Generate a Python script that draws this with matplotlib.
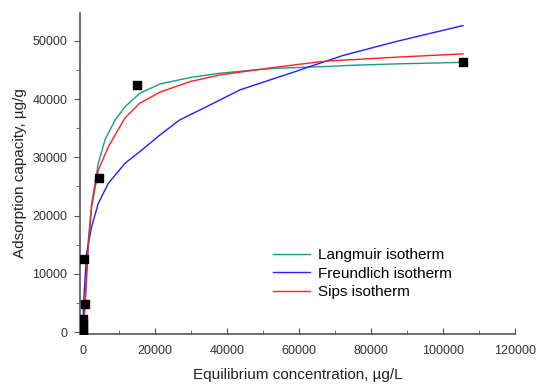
import matplotlib
matplotlib.use("Agg")
import matplotlib.pyplot as plt
from matplotlib.ticker import MultipleLocator

plt.rcParams['font.family'] = ['Liberation Sans', 'DejaVu Sans']

# experimental points
c_exp = [0, 0, 0, 0, 560, 370, 4450, 15100, 105600]
q_exp = [0, 700, 1500, 2300, 4810, 12540, 26400, 42440, 46440]

# fitted curves
c_lang = [0, 560, 1470, 2400, 4260, 6100, 8900, 11700, 15800, 21400, 29700,
          38100, 49200, 53800, 67700, 74200, 87100, 104700]
q_lang = [0, 4930, 15800, 22100, 29000, 33000, 36400, 38700, 41000, 42600, 43700,
          44450, 45100, 45300, 45600, 45800, 46050, 46300]

c_freu = [0, 100, 1000, 2400, 4250, 7000, 11700, 15800, 21400, 26900, 32500,
          38100, 43600, 49200, 58400, 63100, 72300, 87100, 105600]
q_freu = [0, 4350, 13500, 18100, 22100, 25500, 29000, 30980, 33850, 36430, 38140,
          39860, 41580, 42730, 44600, 45600, 47500, 49900, 52630]

c_sips = [0, 560, 1470, 2400, 4250, 7030, 11700, 15800, 21400, 29700,
          38100, 49200, 53800, 67700, 74200, 87100, 105600]
q_sips = [0, 4350, 14650, 21500, 27800, 31800, 36800, 39300, 41200, 43000,
          44160, 45100, 45500, 46550, 46750, 47200, 47770]

fig = plt.figure(figsize=(5.5, 3.92), dpi=100)
ax = fig.add_axes([0.1455, 0.148, 0.7905, 0.819])

ax.plot(c_lang, q_lang, color='#1a9a8c', lw=1.0, label='Langmuir isotherm')
ax.plot(c_freu, q_freu, color='#1f1fff', lw=1.0, label='Freundlich isotherm')
ax.plot(c_sips, q_sips, color='#ff2020', lw=1.0, label='Sips isotherm')
ax.plot(c_exp, q_exp, 's', color='black', ms=6, zorder=5)

ax.set_xlim(-830, 120000)
ax.set_ylim(-340, 54800)

for s in ['top', 'right']:
    ax.spines[s].set_visible(False)
for s in ['left', 'bottom']:
    ax.spines[s].set_color('#555555')
    ax.spines[s].set_linewidth(1.2)

ax.xaxis.set_major_locator(MultipleLocator(20000))
ax.xaxis.set_minor_locator(MultipleLocator(10000))
ax.yaxis.set_major_locator(MultipleLocator(10000))
ax.yaxis.set_minor_locator(MultipleLocator(5000))
ax.tick_params(axis='x', which='both', direction='in', colors='#555555',
               labelcolor='#333333', labelsize=9, pad=8)
ax.tick_params(axis='y', which='both', direction='out', colors='#555555',
               labelcolor='#333333', labelsize=9, pad=5)
ax.tick_params(which='major', length=4)
ax.tick_params(which='minor', length=3)

ax.set_xlabel('Equilibrium concentration, µg/L', fontsize=11, color='#222222', labelpad=8)
ax.set_ylabel('Adsorption capacity, µg/g', fontsize=11, color='#222222')

ax.legend(loc='upper left', bbox_to_anchor=(0.413, 0.31), frameon=False,
          fontsize=11, handlelength=2.4, handletextpad=0.5, labelspacing=0.3)

fig.savefig('out.png', dpi=100)
